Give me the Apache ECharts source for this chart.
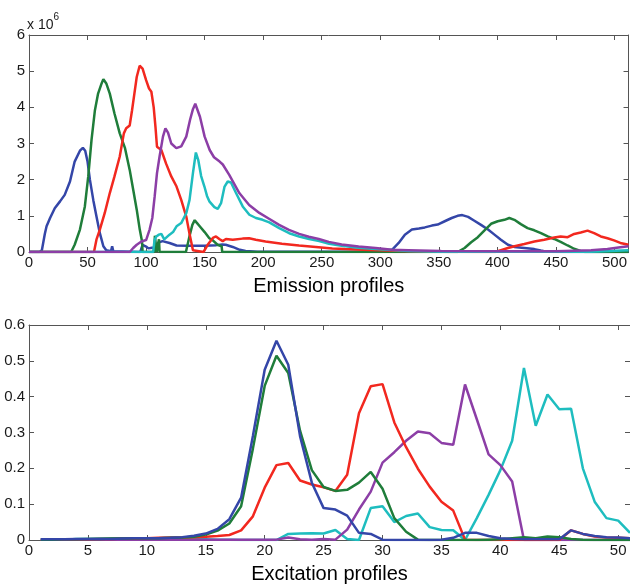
<!DOCTYPE html>
<html>
<head>
<meta charset="utf-8">
<script src="https://cdn.jsdelivr.net/npm/echarts@6/dist/echarts.min.js"></script>
<style>
  html, body { margin: 0; padding: 0; background: #fff; }
  #chart { width: 630px; height: 585px; }
</style>
</head>
<body>
<div id="chart"></div>
<script>
// Emission profiles: [wavelength index, intensity in units of 1e6]
const emBlue = [[0,0],[9,0],[11,0.05],[13.5,0.5],[15,0.71],[18,0.94],[22,1.21],[26.5,1.4],[30.5,1.58],[35,1.95],[39,2.5],[43.5,2.8],[46,2.88],[48,2.8],[50,2.5],[52,2.0],[55,1.42],[57.5,1.0],[60.5,0.52],[63.5,0.16],[66,0.05],[70,0.02],[71,0.16],[72,0.02],[73,0],[95,0],[97,0.2],[100,0.15],[102,0.1],[105,0.12],[108,0.12],[110,0.25],[114,0.3],[120,0.25],[126,0.18],[135,0.17],[140,0.17],[150,0.17],[160,0.19],[165,0.21],[168,0.2],[174,0.14],[180,0.06],[185,0.03],[195,0.01],[300,0.01],[310,0.06],[315.7,0.25],[321,0.48],[327,0.62],[333,0.65],[338,0.68],[344,0.73],[349,0.76],[355,0.85],[361,0.94],[366,1.0],[370,1.02],[375,0.97],[380,0.87],[386,0.75],[392,0.62],[397.5,0.48],[403,0.34],[409,0.2],[414.5,0.14],[423,0.11],[431.5,0.08],[437,0.04],[442,0.01],[460,0],[512,0]];
const emGreen = [[0,0],[36,0],[39,0.2],[43.5,0.62],[47.7,1.26],[50.6,2.09],[53.4,3.1],[56.3,3.92],[59,4.38],[62,4.66],[63.5,4.78],[66,4.66],[69,4.38],[73,3.83],[77.5,3.28],[82,2.87],[86,2.27],[89,1.72],[92,1.17],[94.6,0.62],[96.5,0.3],[97,0],[107,0],[107.5,0.45],[108.5,0.45],[109,0],[110.5,0],[111,0.35],[111.5,0],[134,0],[137,0.43],[139.5,0.75],[141.5,0.88],[143,0.82],[145.6,0.72],[150,0.55],[154,0.38],[157,0.32],[161,0.2],[164.5,0.16],[165,0],[366,0],[372,0.11],[377.6,0.27],[383.3,0.41],[389,0.6],[394.6,0.78],[400.3,0.85],[406,0.89],[410.2,0.94],[414.5,0.89],[420,0.77],[425.8,0.66],[431.5,0.6],[437.2,0.52],[443,0.43],[448.5,0.36],[454,0.28],[460,0.18],[465.5,0.09],[471,0.03],[475,0],[512,0]];
const emRed = [[0,0],[55.5,0],[57.6,0.34],[60.5,0.62],[64.7,1.08],[69,1.63],[73,2.09],[77.5,2.64],[81,3.28],[83,3.42],[86,3.5],[88,3.92],[90,4.38],[92,4.84],[94.5,5.15],[97,5.07],[100,4.75],[102.5,4.52],[104.5,4.43],[106.5,4.0],[108,3.46],[109.3,2.91],[113,2.82],[117,2.45],[121.5,2.09],[126,1.81],[130,1.44],[134.3,0.98],[137,0.52],[140,0.05],[141,0],[149,0],[152.6,0.2],[157,0.39],[159.7,0.43],[162.5,0.36],[165.4,0.3],[168.2,0.36],[174,0.34],[182.4,0.37],[188,0.38],[193.7,0.34],[202,0.29],[216,0.23],[230.6,0.18],[245,0.14],[259,0.1],[270,0.08],[285,0.06],[300,0.05],[320,0.03],[350,0.01],[380,0],[398,0],[403,0.05],[409,0.11],[414.6,0.16],[423,0.22],[431.6,0.29],[440,0.34],[448.6,0.4],[454,0.43],[460,0.41],[465.6,0.5],[471.2,0.54],[477,0.59],[482.6,0.52],[488.3,0.43],[494,0.38],[499.6,0.32],[505,0.25],[512,0.2]];
const emCyan = [[0,0],[106,0],[107.3,0.34],[108.7,0.43],[111,0.48],[113,0.5],[115.5,0.35],[117.2,0.39],[120,0.48],[123,0.55],[126,0.71],[130,0.8],[134.3,1.07],[137.1,1.44],[140,2.18],[142.5,2.75],[144.5,2.55],[147,2.1],[149.8,1.81],[152,1.55],[154,1.4],[158.3,1.24],[161.2,1.19],[164,1.35],[167,1.81],[169.7,1.95],[172.5,1.92],[176.8,1.63],[182.5,1.26],[188.2,1.03],[193.8,0.94],[199.5,0.89],[205.2,0.82],[213.7,0.66],[222.2,0.52],[230.7,0.43],[239.3,0.36],[247.8,0.3],[256.3,0.23],[267,0.17],[281,0.12],[296,0.08],[324,0.03],[350,0.01],[400,0.01],[480,0.01],[512,0.05]];
const emPurple = [[0,0],[86,0],[89,0.11],[92,0.2],[96,0.29],[100,0.33],[103,0.62],[105.3,0.94],[107.3,1.53],[109.3,2.18],[111.5,2.64],[114.4,3.19],[116.5,3.42],[118.7,3.3],[121.5,3.0],[125.8,2.87],[130,2.92],[134.3,3.19],[137.5,3.65],[140,3.95],[142,4.1],[143.5,4.05],[146,3.74],[150,3.19],[154.3,2.82],[158,2.62],[162.8,2.5],[165.5,2.42],[171,2.13],[179.6,1.63],[188,1.3],[196.7,1.08],[205,0.92],[213.6,0.75],[222,0.61],[230.7,0.5],[239,0.42],[247.5,0.36],[256,0.28],[267,0.21],[281.5,0.15],[296,0.11],[310,0.06],[324,0.05],[352,0.03],[409,0.02],[450,0.02],[480,0.05],[494,0.08],[505,0.13],[512,0.16]];

// Excitation profiles: one value per excitation index
const exX = [1,2,3,4,5,6,7,8,9,10,11,12,13,14,15,16,17,18,19,20,21,22,23,24,25,26,27,28,29,30,31,32,33,34,35,36,37,38,39,40,41,42,43,44,45,46,47,48,49,50,51];
const exBlue = [0.002,0.002,0.002,0.003,0.003,0.003,0.003,0.004,0.005,0.005,0.005,0.006,0.008,0.012,0.018,0.031,0.058,0.118,0.29,0.475,0.556,0.489,0.29,0.16,0.089,0.085,0.068,0.02,0.017,0.001,0,0,0,0,0.001,0.006,0.02,0.02,0.011,0.005,0.003,0.002,0.002,0.002,0.002,0.027,0.017,0.011,0.008,0.007,0.005];
const exGreen = [0.001,0.001,0.002,0.002,0.003,0.003,0.004,0.004,0.005,0.005,0.005,0.006,0.007,0.009,0.015,0.026,0.046,0.094,0.255,0.43,0.514,0.466,0.305,0.195,0.148,0.137,0.14,0.16,0.19,0.143,0.061,0.023,0.001,0,0,0,0,0,0.001,0.002,0.005,0.008,0.005,0.01,0.008,0.003,0.001,0,0,0,0];
const exRed = [0.001,0.001,0.002,0.002,0.002,0.003,0.003,0.004,0.004,0.005,0.006,0.007,0.007,0.008,0.009,0.011,0.014,0.027,0.066,0.146,0.209,0.215,0.166,0.155,0.147,0.137,0.182,0.354,0.429,0.435,0.328,0.259,0.199,0.149,0.107,0.082,0.001,0,0,0,0,0,0,0,0,0.027,0.017,0.01,0.007,0.006,0.005];
const exCyan = [0.001,0.001,0.001,0.003,0.003,0.004,0.004,0.005,0.005,0.005,0.005,0.004,0.004,0.003,0.002,0.001,0.001,0,0,0,0,0.017,0.018,0.019,0.018,0.028,0.003,0,0.089,0.094,0.05,0.067,0.074,0.036,0.028,0.027,0,0.061,0.126,0.195,0.277,0.48,0.319,0.406,0.365,0.366,0.2,0.107,0.061,0.054,0.02];
const exPurple = [0.001,0.001,0.001,0.001,0.001,0.001,0.001,0.001,0.001,0.001,0.001,0.001,0.001,0.001,0.001,0.001,0.001,0.001,0.001,0.001,0.001,0.007,0.002,0.001,0.003,0.001,0.029,0.085,0.135,0.216,0.245,0.277,0.303,0.298,0.271,0.266,0.434,0.337,0.239,0.209,0.163,0,0,0,0,0,0,0,0,0,0];

const colors = { blue: '#3446a8', green: '#1f7d3a', red: '#f2281f', cyan: '#1ebdbf', purple: '#8c3ea6' };

const FONT = 'Liberation Sans, Arial, Helvetica, sans-serif';
const frame = '#555';
const textColor = '#1a1a1a';

function pair(xs, ys) { return xs.map((x, i) => [x, ys[i]]); }

function lineSeries(data, color, xi, yi) {
  return {
    type: 'line', data: data, xAxisIndex: xi, yAxisIndex: yi,
    showSymbol: false, symbol: 'none', clip: true,
    lineStyle: { color: color, width: 2.5 }, itemStyle: { color: color },
    emphasis: { disabled: true }
  };
}

function xAx(gi, max, interval, name, pos) {
  const main = pos === 'bottom';
  return {
    type: 'value', gridIndex: gi, position: pos, min: 0, max: max, interval: interval,
    axisLine: { show: true, onZero: false, lineStyle: { color: frame, width: 1 } },
    axisTick: { show: true, inside: true, length: 5, lineStyle: { color: frame } },
    axisLabel: { show: main, margin: 3, fontSize: 15, color: textColor, fontFamily: FONT, showMaxLabel: false },
    splitLine: { show: false },
    name: main ? name : '', nameLocation: 'middle', nameGap: 24,
    nameTextStyle: { fontSize: 20, color: '#000', fontFamily: FONT, verticalAlign: 'top' }
  };
}

function yAx(gi, max, interval, pos) {
  const main = pos === 'left';
  return {
    type: 'value', gridIndex: gi, position: pos, min: 0, max: max, interval: interval,
    axisLine: { show: true, onZero: false, lineStyle: { color: frame, width: 1 } },
    axisTick: { show: true, inside: true, length: 5, lineStyle: { color: frame } },
    axisLabel: { show: main, margin: 4, fontSize: 15, color: textColor, fontFamily: FONT },
    splitLine: { show: false }
  };
}

const chart = echarts.init(document.getElementById('chart'), null, { renderer: 'canvas' });
chart.setOption({
  animation: false,
  backgroundColor: '#fff',
  grid: [
    { left: 29, top: 35, width: 601, height: 217 },
    { left: 29, top: 325, width: 601, height: 217 }
  ],
  xAxis: [
    xAx(0, 512, 50, 'Emission profiles', 'bottom'),
    xAx(0, 512, 50, '', 'top'),
    xAx(1, 51, 5, 'Excitation profiles', 'bottom'),
    xAx(1, 51, 5, '', 'top')
  ],
  yAxis: [
    yAx(0, 6, 1, 'left'),
    yAx(0, 6, 1, 'right'),
    yAx(1, 0.6, 0.1, 'left'),
    yAx(1, 0.6, 0.1, 'right')
  ],
  graphic: [{
    type: 'text', left: 27, top: 12,
    style: {
      text: '{a|x 10}{b|6}',
      rich: {
        a: { fontSize: 14, fontFamily: FONT, fill: textColor, verticalAlign: 'bottom', padding: [6, 0, 0, 0] },
        b: { fontSize: 10, fontFamily: FONT, fill: textColor, verticalAlign: 'top' }
      }
    }
  }],
  series: [
    lineSeries(emBlue, colors.blue, 0, 0),
    lineSeries(emGreen, colors.green, 0, 0),
    lineSeries(emRed, colors.red, 0, 0),
    lineSeries(emCyan, colors.cyan, 0, 0),
    lineSeries(emPurple, colors.purple, 0, 0),
    lineSeries(pair(exX, exCyan), colors.cyan, 2, 2),
    lineSeries(pair(exX, exPurple), colors.purple, 2, 2),
    lineSeries(pair(exX, exRed), colors.red, 2, 2),
    lineSeries(pair(exX, exGreen), colors.green, 2, 2),
    lineSeries(pair(exX, exBlue), colors.blue, 2, 2)
  ]
});
</script>
</body>
</html>
